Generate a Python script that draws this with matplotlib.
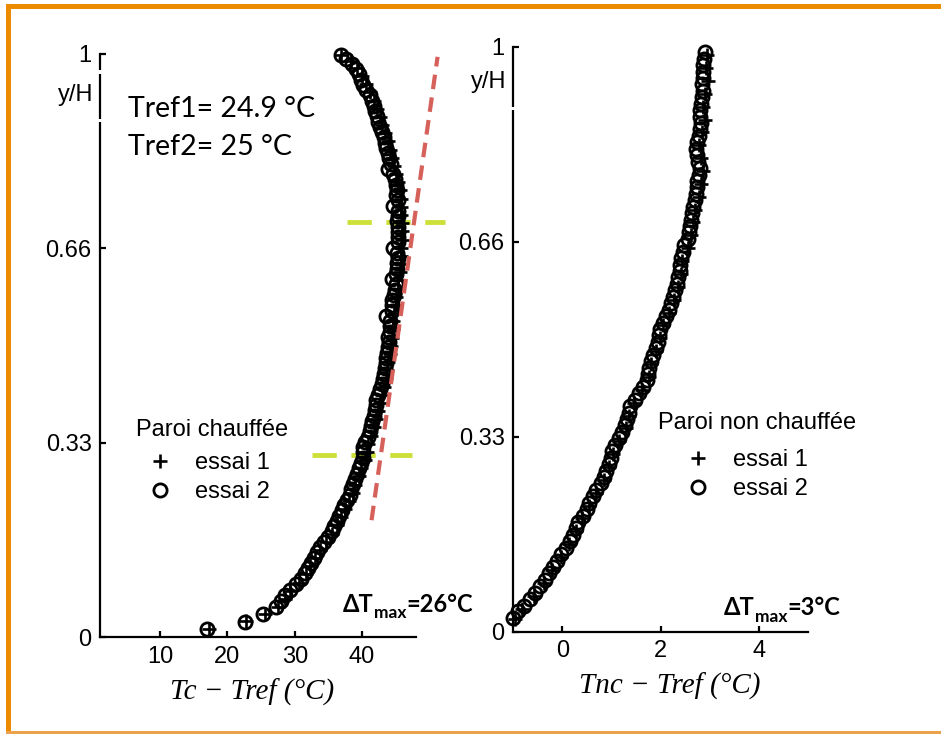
import matplotlib.pyplot as plt
from matplotlib.patches import Rectangle

# Paroi chauffée : y/H en fonction de Tc - Tref
hot_y2 = [0.015, 0.027, 0.040, 0.052, 0.062, 0.072, 0.082, 0.092, 0.101, 0.110,
          0.119, 0.128, 0.137, 0.146, 0.155, 0.164, 0.173, 0.182, 0.191, 0.200,
          0.209, 0.218, 0.227, 0.236, 0.245, 0.254, 0.263, 0.272, 0.281, 0.290,
          0.299, 0.308, 0.317, 0.326, 0.335, 0.344, 0.353, 0.362, 0.371, 0.380,
          0.389, 0.398, 0.407, 0.416, 0.425, 0.434, 0.443, 0.452, 0.461, 0.470,
          0.479, 0.488, 0.497, 0.506, 0.515, 0.524, 0.533, 0.542, 0.551, 0.560,
          0.569, 0.578, 0.587, 0.596, 0.605, 0.614, 0.623, 0.632, 0.641, 0.650,
          0.659, 0.668, 0.677, 0.686, 0.695, 0.704, 0.713, 0.722, 0.731, 0.740,
          0.749, 0.758, 0.767, 0.776, 0.785, 0.794, 0.803, 0.812, 0.821, 0.830,
          0.839, 0.848, 0.857, 0.866, 0.875, 0.884, 0.893, 0.902, 0.911, 0.920,
          0.929, 0.938, 0.947, 0.956, 0.965, 0.974, 0.983, 0.992, 0.999]
hot_x2 = [17.0, 22.6, 25.3, 27.2, 28.0, 28.6, 29.3, 30.2, 30.9, 31.5,
          31.9, 32.4, 32.8, 33.3, 33.8, 34.4, 35.0, 35.5, 35.8, 36.3,
          36.6, 37.0, 37.3, 37.8, 38.2, 38.4, 38.7, 39.0, 39.3, 39.6,
          39.9, 40.1, 40.2, 40.1, 40.4, 40.8, 41.1, 41.3, 41.5, 41.8,
          41.9, 42.1, 42.0, 42.4, 42.7, 42.9, 43.1, 43.2, 43.4, 43.5,
          43.5, 43.7, 43.9, 44.0, 43.8, 44.1, 44.2, 44.1, 43.6, 44.4,
          44.5, 44.4, 44.7, 44.9, 45.0, 44.5, 45.1, 45.2, 45.2, 45.3,
          45.2, 44.6, 45.3, 45.3, 45.4, 45.3, 45.2, 45.3, 45.4, 44.6,
          45.3, 45.1, 45.2, 45.0, 44.9, 44.6, 43.9, 44.3, 44.0, 43.9,
          43.6, 43.4, 43.3, 43.0, 42.7, 42.4, 42.2, 41.9, 41.7, 41.4,
          41.1, 40.6, 40.2, 39.9, 39.5, 39.1, 38.5, 37.6, 36.8]
hot_y1 = [0.015, 0.028, 0.041, 0.053, 0.066, 0.080, 0.094, 0.108, 0.122, 0.136,
          0.150, 0.164, 0.178, 0.192, 0.206, 0.220, 0.234, 0.248, 0.262, 0.276,
          0.290, 0.304, 0.318, 0.332, 0.346, 0.360, 0.374, 0.388, 0.402, 0.416,
          0.430, 0.444, 0.458, 0.472, 0.486, 0.500, 0.514, 0.528, 0.542, 0.556,
          0.570, 0.584, 0.598, 0.612, 0.626, 0.640, 0.654, 0.668, 0.682, 0.696,
          0.710, 0.724, 0.738, 0.752, 0.766, 0.780, 0.794, 0.808, 0.822, 0.836,
          0.850, 0.864, 0.878, 0.892, 0.906, 0.920, 0.934, 0.948, 0.962, 0.976,
          0.988, 0.998]
hot_x1 = [17.3, 22.8, 25.6, 27.5, 28.5, 29.3, 30.6, 31.6, 32.3, 33.0,
          33.8, 34.7, 35.5, 36.2, 36.8, 37.4, 38.1, 38.6, 39.0, 39.5,
          39.9, 40.4, 40.7, 40.9, 41.3, 41.7, 42.0, 42.3, 42.6, 42.9,
          43.2, 43.5, 43.7, 43.9, 44.1, 44.3, 44.4, 44.6, 44.6, 44.8,
          45.0, 45.1, 45.3, 45.4, 45.6, 45.7, 45.8, 45.8, 45.9, 45.9,
          45.9, 45.8, 45.8, 45.7, 45.6, 45.4, 45.1, 44.8, 44.5, 44.1,
          43.8, 43.4, 43.0, 42.6, 42.2, 41.8, 41.2, 40.6, 40.0, 39.2,
          38.3, 36.9]

# Paroi non chauffée : y/H en fonction de Tnc - Tref
cold_y2 = [0.024, 0.035, 0.045, 0.056, 0.067, 0.078, 0.089, 0.100, 0.111, 0.122,
           0.133, 0.144, 0.155, 0.166, 0.177, 0.188, 0.199, 0.210, 0.221, 0.232,
           0.243, 0.254, 0.265, 0.276, 0.287, 0.298, 0.309, 0.320, 0.331, 0.342,
           0.353, 0.364, 0.375, 0.386, 0.397, 0.408, 0.419, 0.430, 0.441, 0.452,
           0.463, 0.474, 0.485, 0.496, 0.507, 0.518, 0.529, 0.540, 0.551, 0.562,
           0.573, 0.584, 0.595, 0.606, 0.617, 0.628, 0.639, 0.650, 0.661, 0.672,
           0.683, 0.694, 0.705, 0.716, 0.727, 0.738, 0.749, 0.760, 0.771, 0.782,
           0.793, 0.804, 0.815, 0.826, 0.837, 0.848, 0.859, 0.870, 0.881, 0.892,
           0.903, 0.914, 0.925, 0.936, 0.947, 0.958, 0.969, 0.980, 0.991]
cold_x2 = [-1.00, -0.90, -0.78, -0.66, -0.56, -0.45, -0.35, -0.26, -0.18, -0.10,
           -0.02, 0.08, 0.15, 0.22, 0.28, 0.33, 0.42, 0.50, 0.55, 0.62,
           0.68, 0.78, 0.85, 0.90, 0.96, 1.00, 1.02, 1.08, 1.15, 1.22,
           1.28, 1.32, 1.35, 1.38, 1.48, 1.56, 1.64, 1.72, 1.74, 1.76,
           1.80, 1.85, 1.90, 1.94, 1.96, 1.98, 2.05, 2.12, 2.18, 2.22,
           2.25, 2.30, 2.34, 2.36, 2.40, 2.40, 2.42, 2.46, 2.48, 2.55,
           2.58, 2.60, 2.62, 2.64, 2.66, 2.70, 2.72, 2.74, 2.74, 2.78,
           2.80, 2.76, 2.74, 2.72, 2.74, 2.78, 2.80, 2.82, 2.80, 2.80,
           2.82, 2.84, 2.86, 2.85, 2.86, 2.86, 2.87, 2.88, 2.90]
cold_y1 = [0.022, 0.040, 0.062, 0.084, 0.106, 0.128, 0.150, 0.172, 0.194, 0.216,
           0.238, 0.260, 0.282, 0.304, 0.326, 0.348, 0.370, 0.392, 0.414, 0.436,
           0.458, 0.480, 0.502, 0.524, 0.546, 0.568, 0.590, 0.612, 0.634, 0.656,
           0.678, 0.700, 0.722, 0.744, 0.766, 0.788, 0.810, 0.832, 0.854, 0.876,
           0.898, 0.920, 0.942, 0.964, 0.986]
cold_x1 = [-0.97, -0.82, -0.58, -0.38, -0.20, -0.03, 0.14, 0.28, 0.40, 0.55,
           0.68, 0.84, 0.96, 1.04, 1.16, 1.30, 1.36, 1.46, 1.62, 1.76,
           1.80, 1.90, 1.98, 2.06, 2.18, 2.28, 2.36, 2.42, 2.44, 2.56,
           2.62, 2.66, 2.70, 2.78, 2.82, 2.86, 2.82, 2.78, 2.84, 2.90,
           2.86, 2.90, 2.96, 2.92, 2.94]

# tangente et bornes de la zone linéaire (paroi chauffée)
tangent_x = [41.4, 51.2]
tangent_y = [0.201, 0.995]
band_levels = [0.313, 0.712]
band_x = [[32.6, 47.4], [37.7, 52.3]]

yticks = [0, 1 / 3, 2 / 3, 1]
yticklabels = ['0', '0.33', '0.66', '1']

plt.rcParams['font.family'] = ['Liberation Sans', 'DejaVu Sans']
W, H = 941, 734
fig = plt.figure(figsize=(W / 100, H / 100), dpi=100)
ax1 = fig.add_axes([0.1063, 0.1315, 0.3358, 0.7950])
ax2 = fig.add_axes([0.5452, 0.1390, 0.3135, 0.7970])

marker_o = dict(ls='none', marker='o', ms=9.5, mew=2.0, mfc='none', mec='k',
                clip_on=False)
marker_p = dict(ls='none', marker='+', ms=10, mew=1.9, color='k', clip_on=False)


def style_axes(ax, xlim, xticks, xlabel, label_x, yh, gaps):
    ax.set_xlim(*xlim)
    ax.set_ylim(0, 1)
    for s in ('top', 'right'):
        ax.spines[s].set_visible(False)
    for s in ('left', 'bottom'):
        ax.spines[s].set_linewidth(1.6)
    ax.set_xticks(xticks)
    ax.set_yticks(yticks, yticklabels)
    ax.tick_params(direction='in', length=4, width=1.6, labelsize=17, pad=6)
    ax.set_xlabel(xlabel, family='Liberation Serif', style='italic', fontsize=21)
    ax.xaxis.set_label_coords(label_x, -0.07)
    ax.annotate('y/H', xy=(0, yh), xycoords=('axes fraction', 'data'),
                xytext=(-5, 0), textcoords='offset points',
                ha='right', va='center', fontsize=17)
    # petites coupures dans l'axe vertical
    for g0, g1 in gaps:
        ax.plot([xlim[0], xlim[0]], [g0, g1], color='white', lw=3,
                solid_capstyle='butt', clip_on=False, zorder=3)


def delta_label(ax, x, y, value):
    font = dict(fontweight='bold', family=['Lato', 'DejaVu Sans'])
    t1 = ax.text(x, y, 'ΔT', transform=ax.transAxes, fontsize=17,
                 va='baseline', **font)
    t2 = ax.annotate('max', xy=(1, 0), xycoords=t1, xytext=(0, -4),
                     textcoords='offset points', fontsize=12.5, va='bottom', **font)
    ax.annotate('=' + value, xy=(1, 0), xycoords=(t2, t1), fontsize=17,
                va='bottom', **font)


def legend_block(ax, handles, anchor):
    ax.legend(handles, ['essai 1', 'essai 2'], loc='upper left',
              bbox_to_anchor=anchor, frameon=False, fontsize=17,
              handlelength=2.0, handletextpad=0.48, labelspacing=0.32,
              borderpad=0, borderaxespad=0, numpoints=1)


style_axes(ax1, (1.1, 48), [10, 20, 30, 40], 'Tc − Tref (°C)', 0.48, 0.93,
           [(0.966, 0.973), (0.883, 0.888)])
style_axes(ax2, (-1, 5), [0, 2, 4], 'Tnc − Tref (°C)', 0.53, 0.94,
           [(0.893, 0.898)])

# paroi chauffée
for xs, lvl in zip(band_x, band_levels):
    ax1.plot(xs, [lvl, lvl], color='#cde03a', lw=3.5, dashes=(5, 3),
             clip_on=False, zorder=1)
p1, = ax1.plot(hot_x1, hot_y1, **marker_p)
c1, = ax1.plot(hot_x2, hot_y2, **marker_o)
ax1.plot(tangent_x, tangent_y, color='#d6605a', lw=3, dashes=(3.5, 2),
         clip_on=False, zorder=4)
legend_block(ax1, [p1, c1], (0.115, 0.318))
ax1.text(0.114, 0.345, 'Paroi chauffée', transform=ax1.transAxes, fontsize=17,
         va='baseline')
ax1.text(0.0886, 0.892, 'Tref1= 24.9 °C', transform=ax1.transAxes, fontsize=20.5,
         family=['Lato', 'DejaVu Sans'], va='baseline')
ax1.text(0.0886, 0.827, 'Tref2= 25 °C', transform=ax1.transAxes, fontsize=20.5,
         family=['Lato', 'DejaVu Sans'], va='baseline')
delta_label(ax1, 0.769, 0.044, '26°C')

# paroi non chauffée
p2, = ax2.plot(cold_x1, cold_y1, **marker_p)
c2, = ax2.plot(cold_x2, cold_y2, **marker_o)
legend_block(ax2, [p2, c2], (0.547, 0.313))
ax2.text(0.4915, 0.347, 'Paroi non chauffée', transform=ax2.transAxes, fontsize=17,
         va='baseline')
delta_label(ax2, 0.715, 0.029, '3°C')


# cadre orange autour de la figure
def frame_bar(x0, y0, x1, y1, color):
    fig.add_artist(Rectangle((x0 / W, 1 - y1 / H), (x1 - x0) / W, (y1 - y0) / H,
                             transform=fig.transFigure, color=color, lw=0))


frame_bar(6, 4, W, 9, '#ed8b00')
frame_bar(6, 4, 11, H, '#ed8b00')
frame_bar(6, 731, W, 733.5, '#eaa24c')

fig.savefig('out.png', dpi=100)
